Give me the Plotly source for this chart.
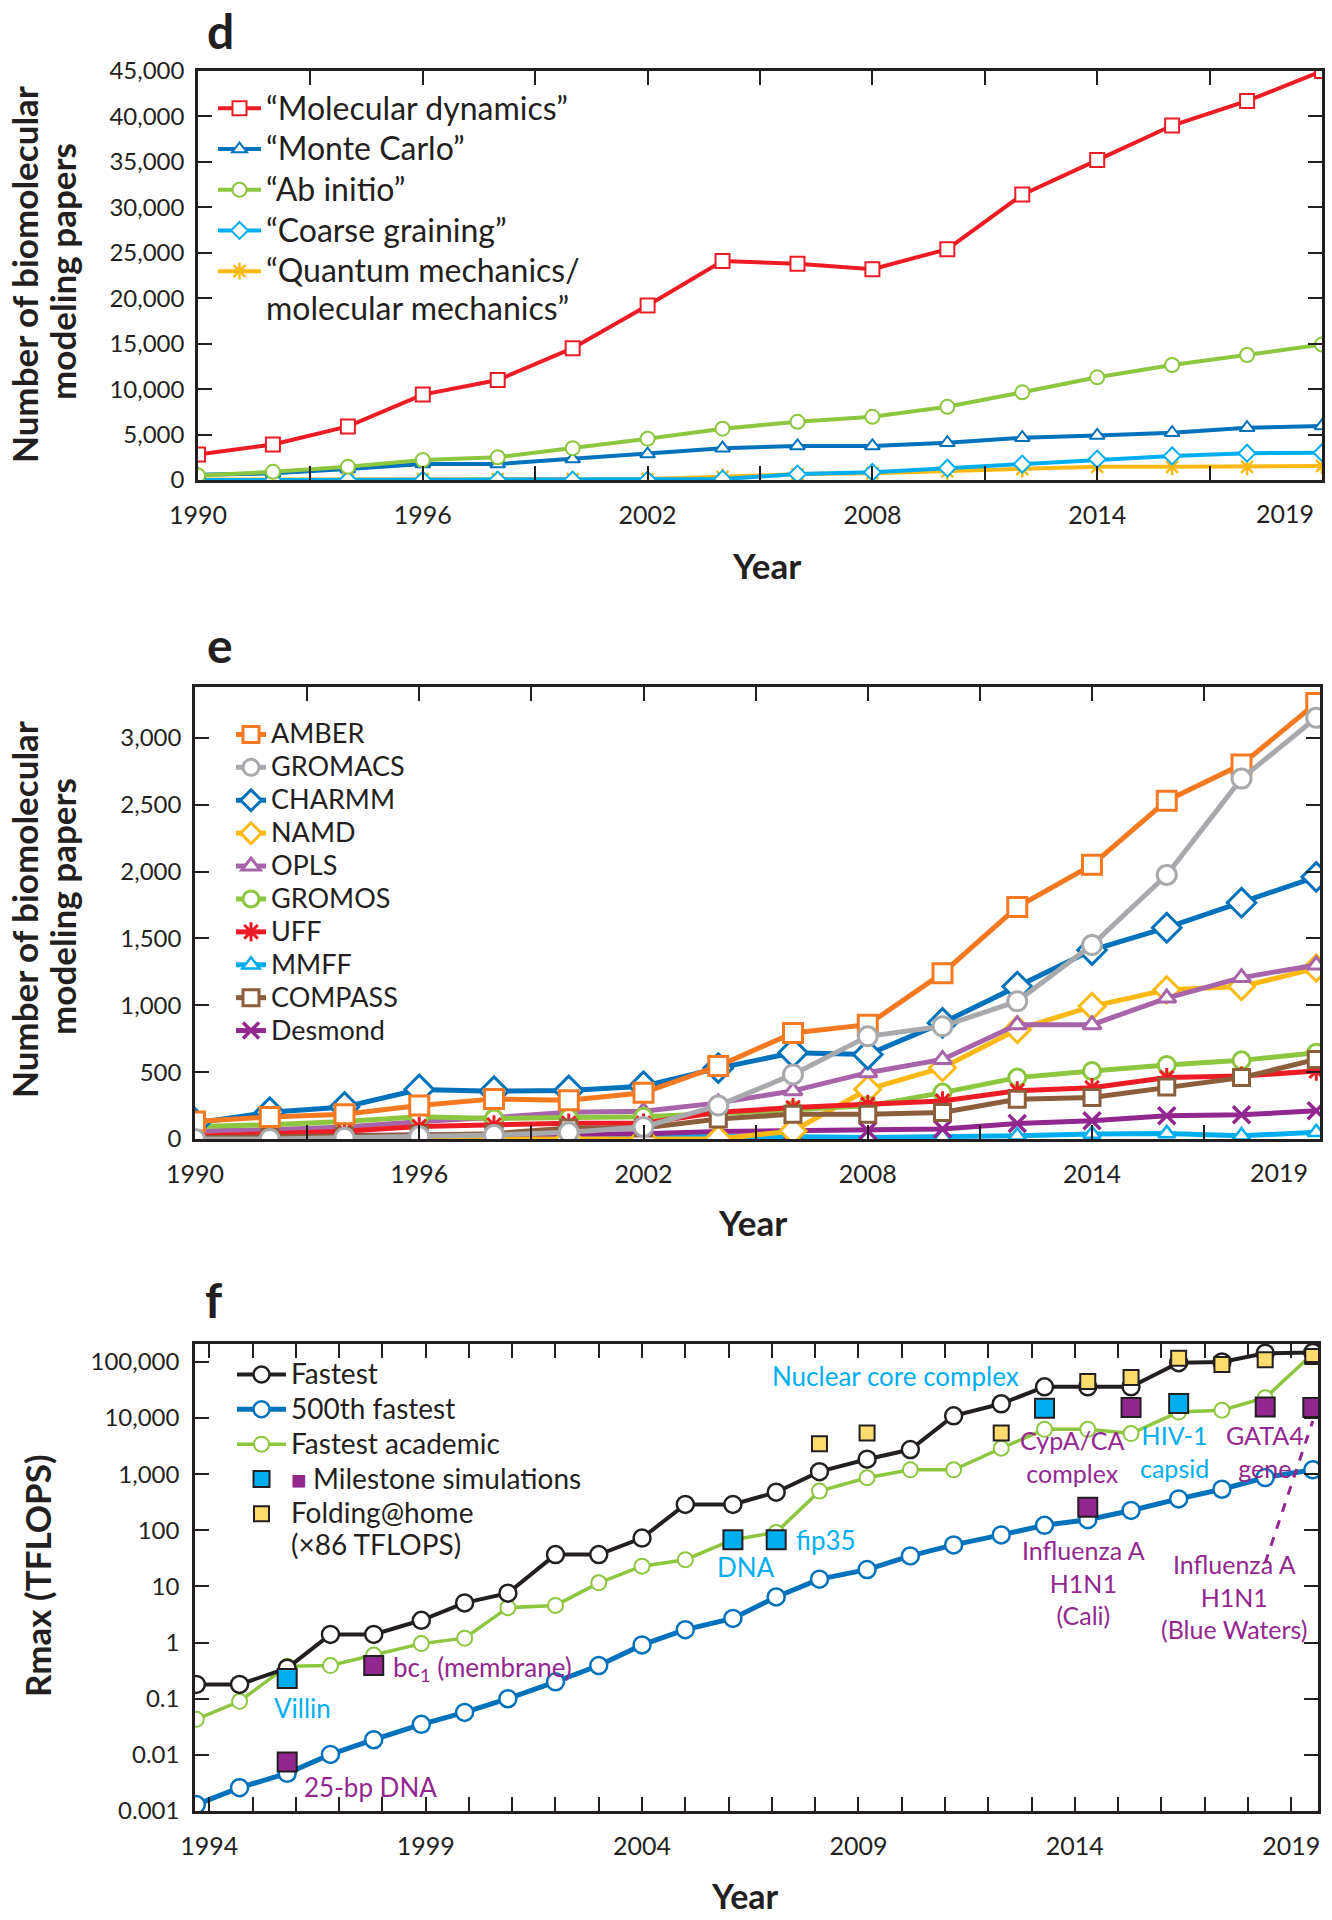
import plotly.graph_objects as go

W, H = 1332, 1920
FONT = "Lato"
LFONT = "Lato"
INK = "#231F20"

# ---------------- Panel d: papers by method ----------------
d_years = [1990, 1992, 1994, 1996, 1998, 2000, 2002, 2004, 2006, 2008, 2010, 2012, 2014, 2016, 2018, 2020]
d_md = [2800, 3900, 5900, 9400, 11000, 14500, 19200, 24100, 23800, 23200, 25400, 31400, 35200, 39000, 41700, 45000]
d_mc = [580, 730, 1200, 1750, 1750, 2300, 2850, 3500, 3750, 3750, 4100, 4650, 4900, 5200, 5750, 5950]
d_ab = [500, 900, 1450, 2200, 2500, 3500, 4550, 5650, 6400, 6950, 8050, 9650, 11300, 12650, 13750, 14900]
d_cg = [0, 0, 0, 0, 0, 0, 0, 100, 650, 850, 1300, 1750, 2300, 2650, 2950, 3000]
d_qm = [50, 50, 50, 100, 100, 100, 100, 350, 650, 750, 950, 1200, 1450, 1450, 1450, 1550]
d_ytick_vals = [0, 5000, 10000, 15000, 20000, 25000, 30000, 35000, 40000, 45000]
d_ytick_text = ["0", "5,000", "10,000", "15,000", "20,000", "25,000", "30,000", "35,000", "40,000", "45,000"]

# ---------------- Panel e: papers by package ----------------
e_years = [1990, 1992, 1994, 1996, 1998, 2000, 2002, 2004, 2006, 2008, 2010, 2012, 2014, 2016, 2018, 2020]
e_amber = [130, 165, 185, 250, 300, 290, 345, 545, 793, 855, 1240, 1735, 2050, 2530, 2800, 3260]
e_gromacs = [0, 0, 10, 20, 30, 50, 90, 250, 483, 768, 843, 1030, 1450, 1975, 2695, 3150]
e_charmm = [120, 200, 240, 370, 358, 363, 395, 530, 645, 632, 868, 1140, 1413, 1580, 1767, 1960]
e_namd = [0, 0, 0, 0, 0, 0, 0, 0, 60, 372, 533, 818, 992, 1116, 1140, 1277]
e_opls = [60, 70, 90, 130, 160, 200, 207, 270, 360, 496, 595, 855, 855, 1054, 1207, 1301]
e_gromos = [94, 106, 130, 166, 154, 158, 166, 190, 215, 248, 347, 459, 508, 553, 588, 645]
e_uff = [20, 38, 58, 94, 106, 118, 118, 200, 235, 260, 285, 360, 384, 459, 471, 508]
e_mmff = [10, 15, 15, 20, 20, 20, 20, 25, 17, 12, 17, 25, 37, 42, 25, 50]
e_compass = [10, 15, 20, 30, 40, 82, 82, 150, 186, 186, 198, 297, 310, 389, 459, 595]
e_desmond = [20, 25, 25, 30, 30, 35, 40, 57, 62, 62, 74, 116, 136, 174, 181, 211]
e_ytick_vals = [0, 500, 1000, 1500, 2000, 2500, 3000]
e_ytick_text = ["0", "500", "1,000", "1,500", "2,000", "2,500", "3,000"]

# year ticks for panels d and e (labelled every 6 years, minor ticks between)
de_xtick_vals = [1990, 1996, 2002, 2008, 2014]
de_xtick_text = ["1990", "1996", "2002", "2008", "2014"]
de_xminor_vals = [1993, 1999, 2005, 2011, 2017]

# ---------------- Panel f: Rmax (TFLOPS) ----------------
f_years = [1993.7, 1994.7, 1995.8, 1996.8, 1997.8, 1998.9, 1999.9, 2000.9, 2002.0, 2003.0,
           2004.0, 2005.0, 2006.1, 2007.1, 2008.1, 2009.2, 2010.2, 2011.2, 2012.3, 2013.3,
           2014.3, 2015.3, 2016.4, 2017.4, 2018.4, 2019.5]
f_fastest = [0.18, 0.18, 0.35, 1.4, 1.4, 2.5, 5.1, 7.6, 37, 37, 73, 290, 290, 478, 1110, 1850,
             2750, 11000, 18000, 36000, 36000, 36000, 97000, 100000, 143000, 148000]
f_500th = [0.0013, 0.0026, 0.0047, 0.0102, 0.0186, 0.035, 0.057, 0.10, 0.20, 0.39, 0.91, 1.7, 2.7,
           6.5, 13.5, 20, 35, 55, 83, 123, 155, 226, 363, 540, 874, 1200]
f_academic = [0.043, 0.09, 0.38, 0.39, 0.6, 0.96, 1.2, 4.2, 4.6, 11.6, 23, 30, 68, 92, 500, 865,
              1200, 1200, 2900, 6300, 6300, 5300, 12800, 13800, 23000, 140000]
ms_cyan_x = [1995.8, 2006.1, 2007.1, 2013.3, 2016.4]
ms_cyan_y = [0.23, 68, 68, 14900, 18200]
ms_purple_x = [1995.8, 1997.8, 2014.3, 2015.3, 2018.4, 2019.5]
ms_purple_y = [0.0075, 0.39, 257, 15400, 15800, 15400]
fah_x = [2008.1, 2009.2, 2012.3, 2014.3, 2015.3, 2016.4, 2017.4, 2018.4, 2019.5]
fah_y = [3500, 5400, 5400, 45000, 53000, 116000, 90000, 110000, 125000]
f_ytick_vals = [0.001, 0.01, 0.1, 1, 10, 100, 1000, 10000, 100000]
f_ytick_text = ["0.001", "0.01", "0.1", "1", "10", "100", "1,000", "10,000", "100,000"]
f_xtick_vals = [1994, 1999, 2004, 2009, 2014, 2019]
f_xtick_text = ["1994", "1999", "2004", "2009", "2014", "2019"]
f_xminor_vals = [1995, 1996, 1997, 1998, 2000, 2001, 2002, 2003, 2005, 2006, 2007, 2008,
                 2010, 2011, 2012, 2013, 2015, 2016, 2017, 2018]

CYAN = "#00AEEF"
PURPLE = "#92278F"


def px(x):
    return x / W


def py(y):
    return 1 - y / H


def big(text, size):
    # legend label drawn larger than the legend font (which sets the row spacing)
    return '<span style="font-size:%dpx">%s</span>' % (size, text)


fig = go.Figure()


def series(x, y, name, color, symbol, size, lw, mlw, xa, ya, legend, rank, fill="white"):
    fig.add_trace(go.Scatter(
        x=x, y=y, name=name, mode="lines+markers",
        line=dict(color=color, width=lw),
        marker=dict(symbol=symbol, size=size, color=fill, line=dict(color=color, width=mlw)),
        xaxis=xa, yaxis=ya, legend=legend, legendrank=rank))


D_LS = 32
series(d_years, d_qm, big("\u201cQuantum mechanics/", D_LS) + "<br>" + big("molecular mechanics\u201d", D_LS),
       "#FDB913", "asterisk-open", 14, 4, 2.5, "x", "y", "legend", 5, fill="#FDB913")
series(d_years, d_cg, big("\u201cCoarse graining\u201d", D_LS), CYAN, "diamond", 13, 4, 2, "x", "y", "legend", 4)
series(d_years, d_mc, big("\u201cMonte Carlo\u201d", D_LS), "#0072BC", "triangle-up", 13, 4, 2, "x", "y", "legend", 2)
series(d_years, d_ab, big("\u201cAb initio\u201d", D_LS), "#8DC63F", "circle", 14, 4, 2, "x", "y", "legend", 3)
series(d_years, d_md, big("\u201cMolecular dynamics\u201d", D_LS), "#ED1C24", "square", 14, 4, 2, "x", "y", "legend", 1)

E_LS = 27
series(e_years, e_mmff, big("MMFF", E_LS), CYAN, "triangle-up", 15, 5, 2.5, "x2", "y2", "legend2", 8)
series(e_years, e_desmond, big("Desmond", E_LS), PURPLE, "x-thin-open", 17, 5, 3.5, "x2", "y2", "legend2", 10, fill=PURPLE)
series(e_years, e_namd, big("NAMD", E_LS), "#FDB913", "diamond", 20, 5, 3, "x2", "y2", "legend2", 4)
series(e_years, e_opls, big("OPLS", E_LS), "#A864A8", "triangle-up", 16, 5, 3, "x2", "y2", "legend2", 5)
series(e_years, e_gromos, big("GROMOS", E_LS), "#8DC63F", "circle", 17, 5, 3, "x2", "y2", "legend2", 6)
series(e_years, e_uff, big("UFF", E_LS), "#ED1C24", "asterisk-open", 16, 5, 3, "x2", "y2", "legend2", 7, fill="#ED1C24")
series(e_years, e_compass, big("COMPASS", E_LS), "#8B5E3C", "square", 16, 5, 3, "x2", "y2", "legend2", 9)
series(e_years, e_charmm, big("CHARMM", E_LS), "#0072BC", "diamond", 22, 5, 3, "x2", "y2", "legend2", 3)
series(e_years, e_amber, big("AMBER", E_LS), "#F47920", "square", 19, 5, 3, "x2", "y2", "legend2", 1)
series(e_years, e_gromacs, big("GROMACS", E_LS), "#A7A9AC", "circle", 19, 5, 3, "x2", "y2", "legend2", 2)

F_LS = 28
series(f_years, f_academic, big("Fastest academic", F_LS), "#8DC63F", "circle", 15, 3.5, 2, "x3", "y3", "legend3", 3)
series(f_years, f_500th, big("500th fastest", F_LS), "#0072BC", "circle", 17, 5, 2.5, "x3", "y3", "legend3", 2)
series(f_years, f_fastest, big("Fastest", F_LS), INK, "circle", 17, 4, 2.5, "x3", "y3", "legend3", 1)
fig.add_trace(go.Scatter(
    x=ms_cyan_x, y=ms_cyan_y, mode="markers",
    name='<span style="color:#92278F;font-size:26px">\u25A0</span> ' + big("Milestone simulations", F_LS),
    marker=dict(symbol="square", size=19, color=CYAN, line=dict(color=INK, width=2)),
    xaxis="x3", yaxis="y3", legend="legend3", legendrank=4))
fig.add_trace(go.Scatter(
    x=ms_purple_x, y=ms_purple_y, mode="markers", name="Milestone (purple)", showlegend=False,
    marker=dict(symbol="square", size=19, color=PURPLE, line=dict(color=INK, width=2)),
    xaxis="x3", yaxis="y3"))
fig.add_trace(go.Scatter(
    x=fah_x, y=fah_y, mode="markers",
    name=big("Folding@home", F_LS) + "<br>" + big("(\u00d786 TFLOPS)", F_LS),
    marker=dict(symbol="square", size=15, color="#FDDB6D", line=dict(color=INK, width=2)),
    xaxis="x3", yaxis="y3", legend="legend3", legendrank=5))


def axis(domain, anchor, rng, tickvals, ticktext, standoff, size, minor_vals=None, typ="linear"):
    ax = dict(domain=domain, anchor=anchor, range=rng, type=typ,
              tickmode="array", tickvals=tickvals, ticktext=ticktext,
              ticks="inside", ticklen=14, tickwidth=2, tickcolor=INK,
              showline=True, linecolor=INK, linewidth=2.5, mirror="ticks",
              showgrid=False, zeroline=False, ticklabelstandoff=standoff,
              automargin=False,
              tickfont=dict(family=FONT, size=size, color=INK))
    if minor_vals is not None:
        ax["minor"] = dict(tickmode="array", tickvals=minor_vals, ticks="inside", ticklen=14,
                           tickwidth=2, tickcolor=INK, showgrid=False)
    return ax


dx = [px(198), px(1322)]
ex = [px(195), px(1320)]
fx = [px(195), px(1318)]

legend_common = dict(xanchor="left", yanchor="top", bgcolor="rgba(0,0,0,0)",
                     borderwidth=0, valign="top", tracegroupgap=0, itemclick=False)

annotations = []


def note(text, x, y, size=26, bold=False, xref="paper", yref="paper", color=INK,
         xanchor="center", yanchor="middle", angle=0):
    t = "<b>%s</b>" % text if bold else text
    annotations.append(dict(text=t, x=x, y=y, xref=xref, yref=yref, showarrow=False,
                            font=dict(family=FONT, size=size, color=color),
                            xanchor=xanchor, yanchor=yanchor, textangle=angle))


# Panel letters
note("d", px(220), py(0), size=48, bold=True, yanchor="top")
note("e", px(220), py(644), size=48, bold=True)
note("f", px(214), py(1299), size=48, bold=True)
# Axis titles
note("Year", px(766), py(565), size=35, bold=True)
note("Year", px(752), py(1222), size=35, bold=True)
note("Year", px(745), py(1895), size=34, bold=True)
note("Number of biomolecular", px(24), py(275), size=35, bold=True, angle=-90)
note("modeling papers", px(62), py(272), size=35, bold=True, angle=-90)
note("Number of biomolecular", px(24), py(910), size=35, bold=True, angle=-90)
note("modeling papers", px(62), py(907), size=35, bold=True, angle=-90)
note("Rmax (TFLOPS)", px(37), py(1576), size=35, bold=True, angle=-90)
# final year labels of panels d and e
note("2019", 2019, py(513), size=25, xref="x")
note("2019", 2019, py(1172), size=25, xref="x2")

# Panel f labels (y in log10 units)
FS = 26
FS2 = 25


def flabel(text, x, yv, color, xanchor="center", size=FS):
    note(text, x, yv, size=size, xref="x3", yref="y3", color=color, xanchor=xanchor)


flabel("Villin", 1995.45, -1.17, CYAN, "left")
flabel("25-bp DNA", 1996.15, -2.57, PURPLE, "left")
flabel("bc<sub>1</sub> (membrane)", 1998.2, -0.47, PURPLE, "left")
flabel("DNA", 2006.4, 1.35, CYAN)
flabel("fip35", 2007.5, 1.83, CYAN, "left")
flabel("Nuclear core complex", 2006.95, 4.75, CYAN, "left")
flabel("CypA/CA<br>complex", 2013.95, 3.31, PURPLE, size=FS2)
flabel("HIV-1<br>capsid", 2016.3, 3.41, CYAN, size=FS2)
flabel("GATA4<br>gene", 2018.4, 3.40, PURPLE, size=FS2)
flabel("Influenza A<br>H1N1<br>(Cali)", 2014.2, 1.07, PURPLE, size=FS2)
flabel("Influenza A<br>H1N1<br>(Blue Waters)", 2017.7, 0.82, PURPLE, size=FS2)

shapes = [dict(type="line", xref="x3", yref="y3", x0=2018.4, y0=10 ** 1.42, x1=2019.5, y1=10 ** 3.95,
               line=dict(color=PURPLE, width=3, dash="dash"))]

fig.update_layout(
    width=W, height=H, margin=dict(l=0, r=0, t=0, b=0, pad=0, autoexpand=False),
    paper_bgcolor="white", plot_bgcolor="white",
    font=dict(family=FONT, color=INK),
    xaxis=axis(dx, "y", [1990, 2020], de_xtick_vals, de_xtick_text, 11, 25, de_xminor_vals),
    yaxis=axis([py(480), py(71)], "x", [0, 45000], d_ytick_vals, d_ytick_text, 6, 24),
    xaxis2=axis(ex, "y2", [1990, 2020.1], de_xtick_vals, de_xtick_text, 11, 25, de_xminor_vals),
    yaxis2=axis([py(1139), py(687)], "x2", [0, 3380], e_ytick_vals, e_ytick_text, 6, 24),
    xaxis3=axis(fx, "y3", [1993.67, 2019.62], f_xtick_vals, f_xtick_text, 11, 25, f_xminor_vals),
    yaxis3=axis([py(1811), py(1344)], "x3", [-3, 5.32], f_ytick_vals, f_ytick_text, 8, 24, typ="log"),
    legend=dict(x=px(213), y=py(83), itemwidth=43, font=dict(family=LFONT, size=29, color=INK), **legend_common),
    legend2=dict(x=px(231), y=py(713), itemwidth=30, font=dict(family=LFONT, size=23, color=INK), **legend_common),
    legend3=dict(x=px(232), y=py(1352), itemwidth=49, font=dict(family=LFONT, size=24.5, color=INK), **legend_common),
    annotations=annotations, shapes=shapes, showlegend=True,
)

fig.write_html("out.html", config={"displayModeBar": False},
               post_script="document.body.style.margin='0';")
